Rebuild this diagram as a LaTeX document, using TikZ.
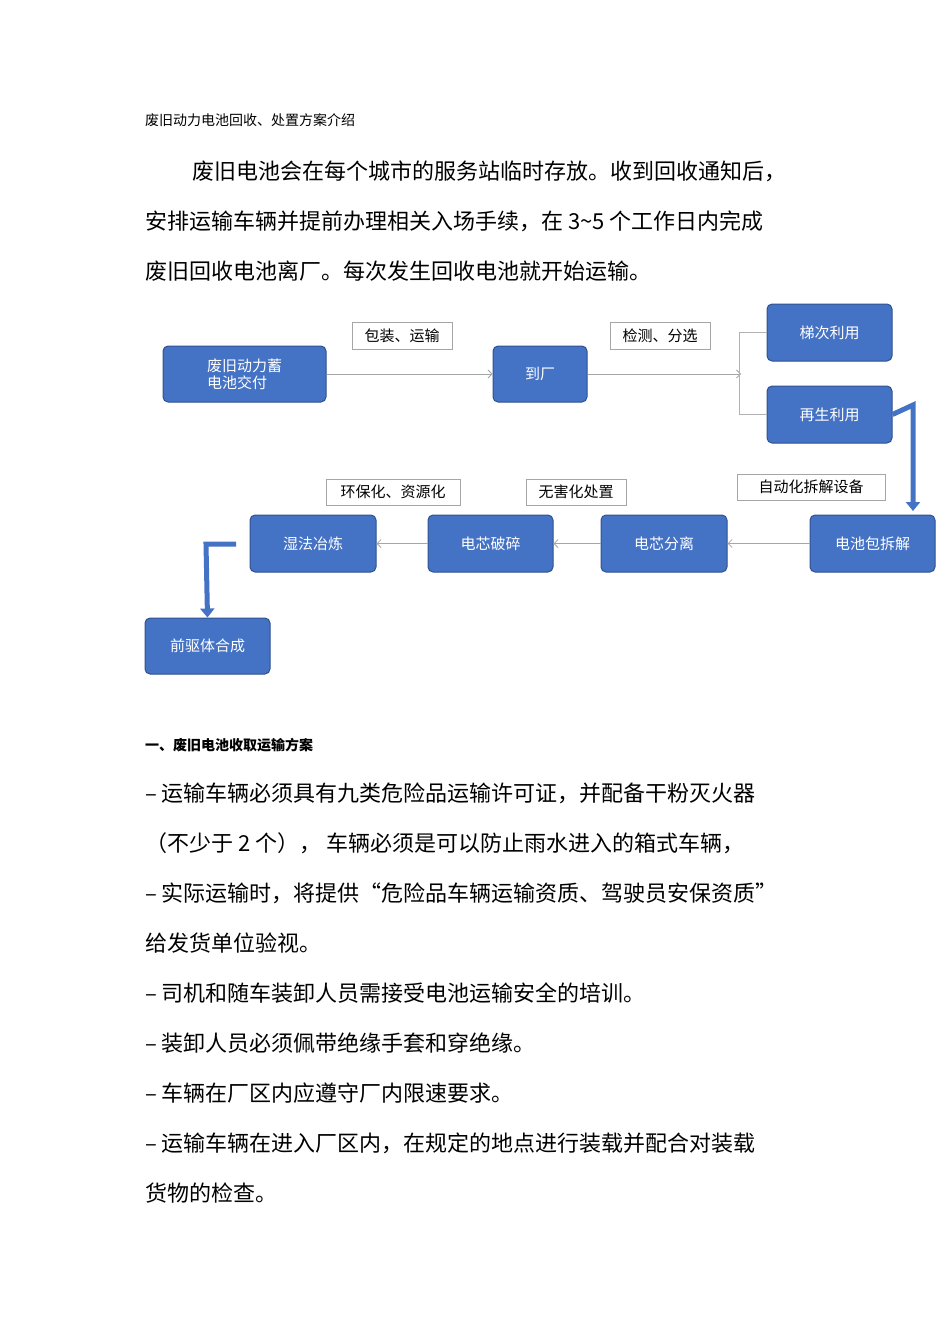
\documentclass[tikz,border=0pt]{standalone}
\usepackage{fontspec}
\setmainfont{Noto Sans CJK SC}
\usetikzlibrary{arrows.meta}
\definecolor{bx}{HTML}{4472C4}
\definecolor{bd}{HTML}{2F528F}
\tikzset{
  box/.style={draw=bd,line width=1pt,fill=bx,rounded corners=5pt,text=white,font=\fontsize{15}{17}\selectfont,align=left},
  lab/.style={draw=gray!70,fill=white,font=\fontsize{15}{17}\selectfont,inner sep=2pt,anchor=center},
  thin/.style={draw=gray!70,line width=0.8pt,-{Straight Barb[length=4pt]}},
  thick/.style={draw=bx,line width=5pt,-{Triangle[length=9pt,width=14pt]}},
  body/.style={anchor=west,font=\fontsize{22}{24}\selectfont,inner sep=0pt},
}
\begin{document}
\begin{tikzpicture}[x=1pt,y=-1pt]
\useasboundingbox (0,0) rectangle (950,1344);
\node[anchor=west,font=\fontsize{14}{16}\selectfont,inner sep=0] (t) at (145,120) {废旧动力电池回收、处置方案介绍};
\node[body] (p1) at (192,171) {废旧电池会在每个城市的服务站临时存放。收到回收通知后，};
\node[body] (p2) at (145,221) {安排运输车辆并提前办理相关入场手续，在 3\textasciitilde5 个工作日内完成};
\node[body] (p3) at (145,271) {废旧回收电池离厂。每次发生回收电池就开始运输。};
% boxes
\node[box,minimum width=163pt,minimum height=56pt] (A) at (244.5,374) {废旧动力蓄\\电池交付};
\node[box,minimum width=94pt,minimum height=56pt] (B) at (540,374) {到厂};
\node[box,minimum width=125pt,minimum height=57pt] (C) at (829.5,332.5) {梯次利用};
\node[box,minimum width=125pt,minimum height=57pt] (D) at (829.5,414.5) {再生利用};
\node[box,minimum width=125pt,minimum height=57pt] (E) at (872.5,543.5) {电池包拆解};
\node[box,minimum width=126pt,minimum height=57pt] (F) at (664,543.5) {电芯分离};
\node[box,minimum width=125pt,minimum height=57pt] (G) at (490.5,543.5) {电芯破碎};
\node[box,minimum width=126pt,minimum height=57pt] (H) at (313,543.5) {湿法冶炼};
\node[box,minimum width=125pt,minimum height=56pt] (I) at (207.5,646) {前驱体合成};
% labels
\node[lab,minimum width=100pt,minimum height=27pt] (l1) at (402,335.5) {包装、运输};
\node[lab,minimum width=100pt,minimum height=27pt] (l2) at (660,335.5) {检测、分选};
\node[lab,minimum width=148pt,minimum height=26pt] (l3) at (811,487) {自动化拆解设备};
\node[lab,minimum width=100pt,minimum height=26pt] (l4) at (576,492) {无害化处置};
\node[lab,minimum width=134pt,minimum height=26pt] (l5) at (393,492) {环保化、资源化};
% connectors
\coordinate (br) at (741,374);
\draw[thin] (A) -- (B);
\draw[thin] (B) -- (br);
\draw[draw=gray!60,line width=0.8pt] (C.west) -- ++(-27,0) |- (D.west);
\draw[thin] (E) -- (F);
\draw[thin] (F) -- (G);
\draw[thin] (G) -- (H);
\draw[thick] (D.east) -- (913,405) -- (913,511);
\draw[thick] (236,544) -- (206,544) -- (I.north);
% bullets
\node[anchor=west,font=\fontsize{14}{16}\selectfont\bfseries,inner sep=0] (h) at (145,745) {一、废旧电池收取运输方案};
\node[body] (b1) at (145,793) {–\ 运输车辆必须具有九类危险品运输许可证，并配备干粉灭火器};
\node[body] (b2) at (145,843) {（不少于 2 个）， 车辆必须是可以防止雨水进入的箱式车辆，};
\node[body] (b3) at (145,893) {–\ 实际运输时，将提供“危险品车辆运输资质、驾驶员安保资质”};
\node[body] (b4) at (145,943) {给发货单位验视。};
\node[body] (b5) at (145,993) {–\ 司机和随车装卸人员需接受电池运输安全的培训。};
\node[body] (b6) at (145,1043) {–\ 装卸人员必须佩带绝缘手套和穿绝缘。};
\node[body] (b7) at (145,1093) {–\ 车辆在厂区内应遵守厂内限速要求。};
\node[body] (b8) at (145,1143) {–\ 运输车辆在进入厂区内，在规定的地点进行装载并配合对装载};
\node[body] (b9) at (145,1193) {货物的检查。};
\end{tikzpicture}
\end{document}
